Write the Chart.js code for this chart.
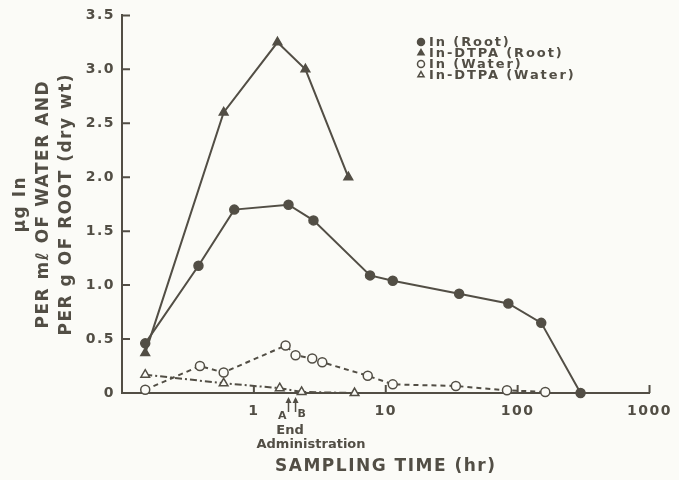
<!DOCTYPE html>
<html>
<head>
<meta charset="utf-8">
<script src="https://cdn.jsdelivr.net/npm/chart.js@4/dist/chart.umd.min.js"></script>
<style>
  html, body { margin: 0; padding: 0; background: #fbfbf7; }
  #wrap { width: 679px; height: 480px; }
</style>
</head>
<body>
<div id="wrap"><canvas id="chart" width="679" height="480"></canvas></div>
<script>
// sampling times (hr) and concentrations
var timeInRoot = [0.15, 0.38, 0.71, 1.83, 2.83, 7.6, 11.3, 36, 85, 151, 300];
var inRoot = [0.46, 1.18, 1.70, 1.745, 1.60, 1.09, 1.04, 0.92, 0.83, 0.65, 0];

var timeDtpaRoot = [0.15, 0.59, 1.51, 2.46, 5.2];
var dtpaRoot = [0.37, 2.6, 3.25, 3.0, 2.0];

var timeInWater = [0.15, 0.39, 0.59, 1.74, 2.07, 2.77, 3.3, 7.3, 11.3, 34, 83, 162];
var inWater = [0.03, 0.25, 0.19, 0.44, 0.35, 0.32, 0.285, 0.16, 0.08, 0.065, 0.025, 0.01];

var timeDtpaWater = [0.15, 0.59, 1.57, 2.3, 5.8];
var dtpaWater = [0.17, 0.09, 0.045, 0.01, 0];

var xTicks = [1, 10, 100, 1000];
var yTicks = [0, 0.5, 1.0, 1.5, 2.0, 2.5, 3.0, 3.5];

// end of administration markers (hr)
var endA = 1.83;
var endB = 2.07;

var ink = '#524e45';
var paper = '#fbfbf7';
var fontFamily = '"DejaVu Sans", sans-serif';

function pts(xs, ys) {
    return xs.map(function(x, i) { return {x: x, y: ys[i]}; });
}

// paper colour, and the wide lettering of the axis text
var paperBg = {
    id: 'paperBg',
    beforeDraw: function(chart) {
        var ctx = chart.ctx;
        ctx.fillStyle = paper;
        ctx.fillRect(0, 0, chart.width, chart.height);
        ctx.letterSpacing = '1.5px';
    },
    beforeDatasetsDraw: function(chart) {
        chart.ctx.letterSpacing = '0px';
    }
};

// ticks pointing into the plot
var innerTicks = {
    id: 'innerTicks',
    afterDraw: function(chart) {
        var ctx = chart.ctx, a = chart.chartArea;
        var xs = chart.scales.x, ys = chart.scales.y;
        ctx.save();
        ctx.strokeStyle = ink;
        ctx.lineWidth = 2;
        ctx.beginPath();
        xTicks.forEach(function(v) {
            var px = xs.getPixelForValue(v);
            ctx.moveTo(px, a.bottom);
            ctx.lineTo(px, a.bottom - 8);
        });
        yTicks.forEach(function(v) {
            var py = ys.getPixelForValue(v);
            ctx.moveTo(a.left, py);
            ctx.lineTo(a.left + 8, py);
        });
        ctx.stroke();
        ctx.restore();
    }
};

var endNote = {
    id: 'endNote',
    afterDraw: function(chart) {
        var ctx = chart.ctx, a = chart.chartArea;
        var xs = chart.scales.x;
        var pa = xs.getPixelForValue(endA), pb = xs.getPixelForValue(endB);
        ctx.save();
        ctx.strokeStyle = ink;
        ctx.fillStyle = ink;
        ctx.lineWidth = 1.5;
        [pa, pb].forEach(function(px) {
            ctx.beginPath();
            ctx.moveTo(px, a.bottom + 19);
            ctx.lineTo(px, a.bottom + 6);
            ctx.stroke();
            ctx.beginPath();
            ctx.moveTo(px, a.bottom + 4);
            ctx.lineTo(px - 3, a.bottom + 10);
            ctx.lineTo(px + 3, a.bottom + 10);
            ctx.closePath();
            ctx.fill();
        });
        ctx.letterSpacing = '0px';
        ctx.font = 'bold 11px ' + fontFamily;
        ctx.textBaseline = 'middle';
        ctx.textAlign = 'right';
        ctx.fillText('A', pa - 2, a.bottom + 23);
        ctx.textAlign = 'left';
        ctx.fillText('B', pb + 2, a.bottom + 21);
        ctx.font = 'bold 13px ' + fontFamily;
        ctx.textAlign = 'center';
        var mid = (pa + pb) / 2;
        ctx.fillText('End', mid - 2, a.bottom + 38);
        ctx.fillText('Administration', mid + 19, a.bottom + 52);
        ctx.restore();
    }
};

var boxLegend = {
    id: 'boxLegend',
    afterDraw: function(chart) {
        var ctx = chart.ctx;
        ctx.save();
        ctx.font = 'bold 13px ' + fontFamily;
        ctx.letterSpacing = '1.9px';
        ctx.textBaseline = 'middle';
        ctx.textAlign = 'left';
        chart.data.datasets.forEach(function(ds, i) {
            var y = 42 + i * 11;
            ctx.strokeStyle = ink;
            ctx.fillStyle = ds.pointBackgroundColor;
            ctx.lineWidth = 1.5;
            Chart.helpers.drawPoint(ctx, {pointStyle: ds.pointStyle, radius: 3.5, rotation: 0, borderWidth: 1.5}, 421, y);
            ctx.fillStyle = ink;
            ctx.fillText(ds.label, 429, y + 1);
        });
        ctx.restore();
    }
};

function series(label, data, style, filled, dash) {
    return {
        label: label,
        data: data,
        showLine: true,
        borderColor: ink,
        borderWidth: 2,
        borderDash: dash,
        pointStyle: style,
        pointRadius: style === 'triangle' ? 5 : 4.5,
        pointBorderWidth: 1.5,
        pointBorderColor: ink,
        pointBackgroundColor: filled ? ink : paper,
        clip: false
    };
}

new Chart(document.getElementById('chart'), {
    type: 'scatter',
    data: {
        datasets: [
            series('In (Root)', pts(timeInRoot, inRoot), 'circle', true, []),
            series('In-DTPA (Root)', pts(timeDtpaRoot, dtpaRoot), 'triangle', true, []),
            series('In (Water)', pts(timeInWater, inWater), 'circle', false, [5, 4]),
            series('In-DTPA (Water)', pts(timeDtpaWater, dtpaWater), 'triangle', false, [7, 3, 2, 3])
        ]
    },
    options: {
        responsive: false,
        animation: false,
        layout: { padding: { left: 0, right: 23, top: 14, bottom: 0 } },
        plugins: { legend: { display: false }, tooltip: { enabled: false } },
        scales: {
            x: {
                type: 'logarithmic',
                min: 0.1,
                max: 1000,
                afterBuildTicks: function(scale) {
                    scale.ticks = xTicks.map(function(v) { return {value: v}; });
                },
                afterFit: function(scale) { scale.height = 87; },
                grid: { drawOnChartArea: false, drawTicks: false },
                border: { display: true, color: ink, width: 2 },
                ticks: {
                    color: ink,
                    padding: 10,
                    font: { family: fontFamily, size: 14, weight: 'bold' },
                    callback: function(v) { return String(v); }
                },
                title: {
                    display: true,
                    text: 'SAMPLING TIME (hr)',
                    color: ink,
                    font: { family: fontFamily, size: 17, weight: 'bold' },
                    padding: { top: 0, bottom: 3 }
                }
            },
            y: {
                min: 0,
                max: 3.5,
                afterBuildTicks: function(scale) {
                    scale.ticks = yTicks.map(function(v) { return {value: v}; });
                },
                afterFit: function(scale) { scale.width = 122; },
                grid: { drawOnChartArea: false, drawTicks: false },
                border: { display: true, color: ink, width: 2 },
                ticks: {
                    color: ink,
                    padding: 7,
                    font: { family: fontFamily, size: 14, weight: 'bold' },
                    callback: function(v) { return v === 0 ? '0' : v.toFixed(1); }
                },
                title: {
                    display: true,
                    text: ['\u03bcg In', 'PER m\u2113 OF WATER AND', 'PER g OF ROOT (dry wt)'],
                    color: ink,
                    font: { family: fontFamily, size: 17, weight: 'bold', lineHeight: 1.35 },
                    padding: { top: 9, bottom: 0 }
                }
            }
        }
    },
    plugins: [paperBg, innerTicks, endNote, boxLegend]
});
</script>
</body>
</html>
